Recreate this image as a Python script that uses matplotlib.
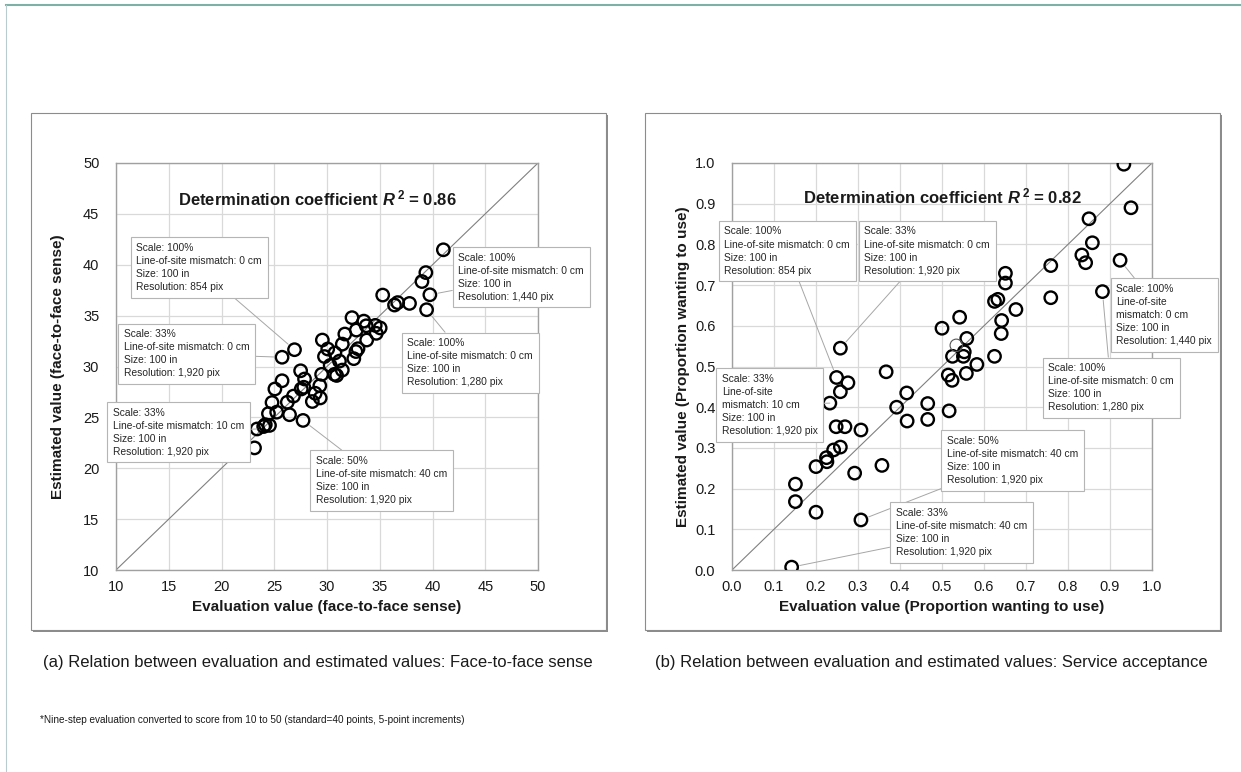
import matplotlib
matplotlib.use('Agg')
import matplotlib.pyplot as plt
from matplotlib.patches import Rectangle
from matplotlib.lines import Line2D

plt.rcParams['font.family'] = ['Liberation Sans', 'DejaVu Sans']
plt.rcParams['mathtext.fontset'] = 'custom'
plt.rcParams['mathtext.it'] = 'Liberation Sans:italic:bold'
plt.rcParams['mathtext.bf'] = 'Liberation Sans:bold'
plt.rcParams['mathtext.rm'] = 'Liberation Sans:bold'

# (a) face-to-face sense
face_eval = [41.03, 39.37, 39.0, 39.75, 39.44, 35.28, 36.4, 36.7, 37.82, 32.37,
             33.49, 33.72, 34.57, 34.67, 35.04, 32.78, 31.69, 31.45, 33.76, 32.94,
             32.74, 32.54, 29.56, 30.07, 29.76, 30.75, 30.3, 31.18, 31.45, 30.71,
             30.91, 29.49, 29.32, 28.88, 28.61, 29.36, 27.5, 27.87, 27.8, 27.56,
             26.82, 26.24, 26.92, 25.74, 25.74, 25.06, 24.79, 25.23, 24.45, 26.45,
             27.73, 24.15, 24.55, 24.0, 23.37, 23.13]
face_est = [41.47, 39.23, 38.35, 37.05, 35.58, 37.02, 36.04, 36.28, 36.2, 34.8,
            34.46, 34.0, 34.04, 33.26, 33.79, 33.58, 33.19, 32.2, 32.6, 31.75,
            31.47, 30.77, 32.6, 31.72, 30.98, 31.33, 30.1, 30.53, 29.65, 29.23,
            29.12, 29.23, 28.11, 27.37, 26.56, 26.91, 29.58, 28.77, 27.96, 27.79,
            27.09, 26.49, 31.65, 30.91, 28.6, 27.79, 26.46, 25.51, 25.37, 25.26,
            24.7, 24.28, 24.21, 24.1, 23.86, 22.0]
face_ticks = [10, 15, 20, 25, 30, 35, 40, 45, 50]

# (b) service acceptance
acc_eval = [0.933, 0.950, 0.850, 0.858, 0.833, 0.842, 0.924, 0.759, 0.882, 0.759,
            0.651, 0.651, 0.625, 0.633, 0.676, 0.542, 0.642, 0.641, 0.500, 0.559,
            0.553, 0.551, 0.525, 0.625, 0.583, 0.515, 0.524, 0.558, 0.258, 0.367,
            0.416, 0.392, 0.466, 0.466, 0.417, 0.517, 0.249, 0.276, 0.258, 0.233,
            0.248, 0.269, 0.307, 0.258, 0.242, 0.225, 0.226, 0.200, 0.292, 0.357,
            0.151, 0.151, 0.200, 0.307, 0.142]
acc_est = [0.997, 0.890, 0.863, 0.804, 0.774, 0.755, 0.761, 0.748, 0.684, 0.669,
           0.729, 0.705, 0.660, 0.665, 0.640, 0.621, 0.613, 0.581, 0.594, 0.569,
           0.536, 0.525, 0.525, 0.525, 0.505, 0.479, 0.466, 0.483, 0.545, 0.487,
           0.435, 0.400, 0.409, 0.370, 0.366, 0.391, 0.473, 0.460, 0.438, 0.410,
           0.352, 0.352, 0.344, 0.302, 0.295, 0.276, 0.266, 0.254, 0.238, 0.257,
           0.211, 0.168, 0.142, 0.123, 0.007]
acc_faint_eval = [0.534]
acc_faint_est = [0.552]
acc_ticks = [0.0, 0.1, 0.2, 0.3, 0.4, 0.5, 0.6, 0.7, 0.8, 0.9, 1.0]

# annotation texts, the point each one points at, and text top-left corner
face_notes = [
    "Scale: 100%\nLine-of-site mismatch: 0 cm\nSize: 100 in\nResolution: 854 pix",
    "Scale: 33%\nLine-of-site mismatch: 0 cm\nSize: 100 in\nResolution: 1,920 pix",
    "Scale: 33%\nLine-of-site mismatch: 10 cm\nSize: 100 in\nResolution: 1,920 pix",
    "Scale: 50%\nLine-of-site mismatch: 40 cm\nSize: 100 in\nResolution: 1,920 pix",
    "Scale: 100%\nLine-of-site mismatch: 0 cm\nSize: 100 in\nResolution: 1,440 pix",
    "Scale: 100%\nLine-of-site mismatch: 0 cm\nSize: 100 in\nResolution: 1,280 pix",
]
face_note_pts = [(26.92, 31.65), (25.74, 30.91), (23.37, 23.86),
                 (27.73, 24.7), (39.75, 37.05), (39.44, 35.58)]
face_note_pos = [(11.92, 42.14), (10.74, 33.65), (9.69, 25.97),
                 (28.95, 21.19), (42.45, 41.19), (37.61, 32.77)]

acc_notes = [
    "Scale: 100%\nLine-of-site mismatch: 0 cm\nSize: 100 in\nResolution: 854 pix",
    "Scale: 33%\nLine-of-site mismatch: 0 cm\nSize: 100 in\nResolution: 1,920 pix",
    "Scale: 33%\nLine-of-site\nmismatch: 10 cm\nSize: 100 in\nResolution: 1,920 pix",
    "Scale: 100%\nLine-of-site\nmismatch: 0 cm\nSize: 100 in\nResolution: 1,440 pix",
    "Scale: 100%\nLine-of-site mismatch: 0 cm\nSize: 100 in\nResolution: 1,280 pix",
    "Scale: 50%\nLine-of-site mismatch: 40 cm\nSize: 100 in\nResolution: 1,920 pix",
    "Scale: 33%\nLine-of-site mismatch: 40 cm\nSize: 100 in\nResolution: 1,920 pix",
]
acc_note_pts = [(0.249, 0.473), (0.258, 0.545), (0.233, 0.410), (0.924, 0.761),
                (0.882, 0.684), (0.307, 0.123), (0.142, 0.007)]
acc_note_pos = [(-0.018, 0.844), (0.315, 0.844), (-0.024, 0.482), (0.915, 0.703),
                (0.753, 0.508), (0.512, 0.329), (0.390, 0.152)]

fig = plt.figure(figsize=(12.41, 7.72), dpi=100)
W, H = 1241.0, 772.0

# page decoration lines
fig.add_artist(Line2D([6 / W, 1], [1 - 5 / H, 1 - 5 / H], color='#7fb0a8', lw=1.5,
                      transform=fig.transFigure))
fig.add_artist(Line2D([6 / W, 6 / W], [0, 1 - 5 / H], color='#b8ccd0', lw=0.8,
                      transform=fig.transFigure))

# panel frames with a small shadow, kept behind the axes
for fx in (31, 645):
    fig.add_artist(Rectangle(((fx + 2) / W, 1 - 632 / H), 575 / W, 517 / H,
                             transform=fig.transFigure, fc='#8c8c8c', ec='none',
                             zorder=-2))
    fig.add_artist(Rectangle((fx / W, 1 - 630 / H), 575 / W, 517 / H,
                             transform=fig.transFigure, fc='white', ec='#8c8c8c',
                             lw=0.8, zorder=-1))

ax1 = fig.add_axes([116 / W, 1 - 570 / H, 422 / W, 407 / H])
ax2 = fig.add_axes([732 / W, 1 - 570 / H, 420 / W, 407 / H])


def style(ax, ticks, fmt):
    ax.set_xlim(ticks[0], ticks[-1])
    ax.set_ylim(ticks[0], ticks[-1])
    ax.set_xticks(ticks)
    ax.set_yticks(ticks)
    ax.set_xticklabels([fmt.format(t) for t in ticks])
    ax.set_yticklabels([fmt.format(t) for t in ticks])
    ax.tick_params(length=0, labelsize=10.5, labelcolor='#1a1a1a')
    ax.tick_params(axis='x', pad=7)
    ax.tick_params(axis='y', pad=12)
    ax.grid(True, color='#d9d9d9', lw=0.9)
    ax.set_axisbelow(True)
    for s in ax.spines.values():
        s.set_color('#a0a0a0')
        s.set_linewidth(1.0)
    ax.axline((0, 0), slope=1, color='#808080', lw=0.8, zorder=2)


style(ax1, face_ticks, '{:g}')
style(ax2, acc_ticks, '{:.1f}')

circ = dict(s=80, facecolors='none', edgecolors='black', linewidths=1.7, zorder=3)
ax1.scatter(face_eval, face_est, **circ)
ax2.scatter(acc_eval, acc_est, **circ)
ax2.scatter(acc_faint_eval, acc_faint_est, s=80, facecolors='none',
            edgecolors='#555555', linewidths=0.8, zorder=3)

lab = dict(fontsize=11, fontweight='bold', color='#1a1a1a')
ax1.set_xlabel('Evaluation value (face-to-face sense)', **lab)
ax1.set_ylabel('Estimated value (face-to-face sense)', va='center', **lab)
ax2.set_xlabel('Evaluation value (Proportion wanting to use)', **lab)
ax2.set_ylabel('Estimated value (Proportion wanting to use)', va='center', **lab)
ax1.xaxis.set_label_coords(0.5, -0.073)
ax2.xaxis.set_label_coords(0.5, -0.073)
ax1.yaxis.set_label_coords(-0.137, 0.5)
ax2.yaxis.set_label_coords(-0.117, 0.5)

ax1.text(0.478, 0.912, r'Determination coefficient $\mathit{R}^{\,\mathbf{2}}$ = 0.86',
         transform=ax1.transAxes, ha='center', va='center', fontsize=12,
         fontweight='bold', color='#1a1a1a', zorder=6)
ax2.text(0.5, 0.918, r'Determination coefficient $\mathit{R}^{\,\mathbf{2}}$ = 0.82',
         transform=ax2.transAxes, ha='center', va='center', fontsize=12,
         fontweight='bold', color='#1a1a1a', zorder=6)


def notes(ax, texts, pts, pos):
    for t, p, q in zip(texts, pts, pos):
        ax.annotate(t, xy=p, xytext=q, ha='left', va='top', fontsize=7.4,
                    color='#262626', linespacing=1.38, zorder=5,
                    annotation_clip=False,
                    bbox=dict(boxstyle='square,pad=0.55', fc='white', ec='#b5b5b5', lw=0.8),
                    arrowprops=dict(arrowstyle='-', color='#a6a6a6', lw=0.7,
                                    shrinkA=0, shrinkB=6))


notes(ax1, face_notes, face_note_pts, face_note_pos)
notes(ax2, acc_notes, acc_note_pts, acc_note_pos)

fig.text(318 / W, 1 - 662 / H,
         '(a) Relation between evaluation and estimated values: Face-to-face sense',
         ha='center', va='center', fontsize=12, color='#1a1a1a')
fig.text(931 / W, 1 - 662 / H,
         '(b) Relation between evaluation and estimated values: Service acceptance',
         ha='center', va='center', fontsize=12, color='#1a1a1a')
fig.text(40 / W, 1 - 720 / H,
         '*Nine-step evaluation converted to score from 10 to 50 (standard=40 points, 5-point increments)',
         ha='left', va='center', fontsize=7.2, color='#1a1a1a')

fig.savefig('out.png', dpi=100, facecolor='white')
